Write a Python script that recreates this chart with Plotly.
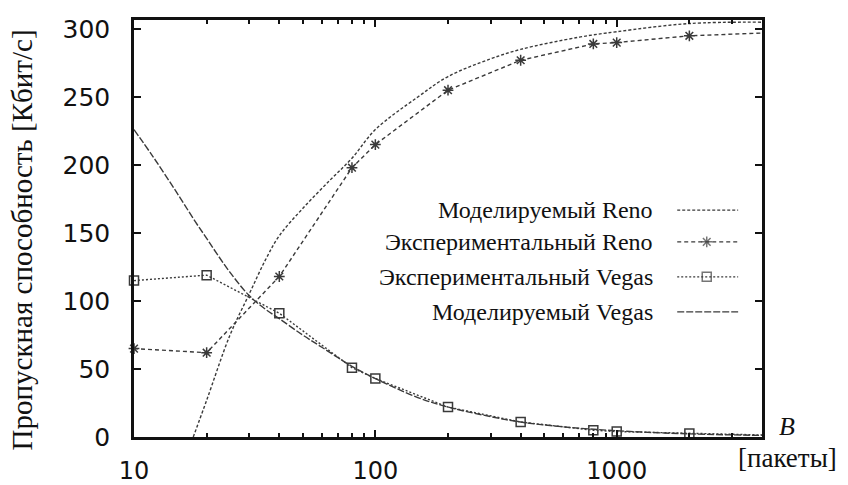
import plotly.graph_objects as go

# ---- data ----
B_exp = [10, 20, 40, 80, 100, 200, 400, 800, 1000, 2000, 4000]
reno_exp = [65, 62, 118, 198, 215, 255, 277, 289, 290, 295, 297]
vegas_exp = [115, 119, 91, 51, 43, 22, 11, 5, 4, 2.5, 1.5]

B_reno_mod = [17.6, 20, 25, 30, 35, 40, 50, 65, 80, 100, 150, 200, 300, 400, 700, 1000, 2000, 4000]
reno_mod = [0, 27, 75, 105, 130, 148, 168, 189, 205, 226, 250, 265, 278, 285, 294, 298, 304, 305]

B_vegas_mod = [10, 12, 15, 18, 20, 22, 25, 30, 35, 40, 50, 60, 80, 100, 150, 200, 300, 400, 600, 1000, 2000, 4000]
vegas_mod = [226, 206, 180, 158, 146, 135, 121, 104, 94, 87, 75, 66, 52, 43, 29, 22, 15, 11, 7.5, 4.6, 2.3, 1.2]

legend_labels = ["Моделируемый Reno", "Экспериментальный Reno",
                 "Экспериментальный Vegas", "Моделируемый Vegas"]
x_title = "[пакеты]"
y_title = "Пропускная способность [Кбит/с]"

SERIF = "Liberation Serif"
SANS = "DejaVu Sans"
C = "#3a3a3a"

styles = [
    dict(dash="3px,2px", symbol=None, shape="spline"),
    dict(dash="4px,3px", symbol="asterisk-open", shape="linear"),
    dict(dash="2px,2px", symbol="square-open", shape="linear"),
    dict(dash="7px,2px", symbol=None, shape="spline"),
]

fig = go.Figure()
series = [(B_reno_mod, reno_mod), (B_exp, reno_exp), (B_exp, vegas_exp), (B_vegas_mod, vegas_mod)]
for (xs, ys), st in zip(series, styles):
    mode = "lines+markers" if st["symbol"] else "lines"
    fig.add_trace(go.Scatter(
        x=xs, y=ys, mode=mode, showlegend=False, cliponaxis=False,
        line=dict(color=C, width=1.4, dash=st["dash"], shape=st["shape"]),
        marker=dict(symbol=st["symbol"] or "circle", size=9, color=C,
                    line=dict(color="#111", width=1.5)),
    ))

# legend (gnuplot style: right-aligned text, sample on the right)
row_y = [0.544, 0.468, 0.384, 0.300]
for lab, st, ry in zip(legend_labels, styles, row_y):
    fig.add_annotation(xref="paper", yref="paper", x=0.83, y=ry, text=lab,
                       showarrow=False, xanchor="right", yanchor="middle",
                       font=dict(family=SERIF, size=24, color="#111"))
    mode = "lines+markers" if st["symbol"] else "lines"
    fig.add_trace(go.Scatter(
        x=[0.865, 0.912, 0.962], y=[ry, ry, ry], xaxis="x2", yaxis="y2",
        mode=mode, showlegend=False, hoverinfo="skip",
        line=dict(color=C, width=1.4, dash=st["dash"]),
        marker=dict(symbol=st["symbol"] or "circle", size=[0, 9, 0], color=C,
                    line=dict(color="#111", width=1.5)),
    ))

fig.add_annotation(xref="paper", yref="paper", x=1.04, y=0.024, text="<i>B</i>",
                   showarrow=False, xanchor="center", yanchor="middle",
                   font=dict(family=SERIF, size=26, color="#111"))
fig.add_annotation(xref="paper", yref="paper", x=1.04, y=-0.05, text=x_title,
                   showarrow=False, xanchor="center", yanchor="middle",
                   font=dict(family=SERIF, size=27, color="#111"))
fig.add_annotation(xref="paper", yref="paper", x=-0.178, y=0.472, text=y_title,
                   showarrow=False, xanchor="center", yanchor="middle", textangle=-90,
                   font=dict(family=SERIF, size=29, color="#111"))

fig.update_layout(
    width=848, height=485,
    margin=dict(l=134, r=86, t=20, b=48),
    paper_bgcolor="white", plot_bgcolor="white",
    xaxis=dict(type="log", range=[1, 3.602], tickvals=[10, 100, 1000],
               ticktext=["10", "100", "1000"], automargin=False,
               ticks="inside", ticklen=7, tickwidth=1.5, tickcolor="#111",
               showline=True, linecolor="#111", linewidth=2.5, mirror="ticks",
               showgrid=False, zeroline=False, ticklabelstandoff=10,
               tickfont=dict(family=SANS, size=24, color="#111"),
               minor=dict(dtick="D1", ticks="inside", ticklen=4, tickwidth=1.5,
                          tickcolor="#111", showgrid=False)),
    yaxis=dict(range=[0, 306.6], tickvals=[0, 50, 100, 150, 200, 250, 300],
               ticks="inside", ticklen=7, tickwidth=1.5, tickcolor="#111",
               showline=True, linecolor="#111", linewidth=2.5, mirror="ticks",
               showgrid=False, zeroline=False, ticklabelstandoff=16, automargin=False,
               tickfont=dict(family=SANS, size=25, color="#111")),
    xaxis2=dict(range=[0, 1], overlaying="x", visible=False, fixedrange=True),
    yaxis2=dict(range=[0, 1], overlaying="y", visible=False, fixedrange=True),
)

fig.write_html("out.html")
